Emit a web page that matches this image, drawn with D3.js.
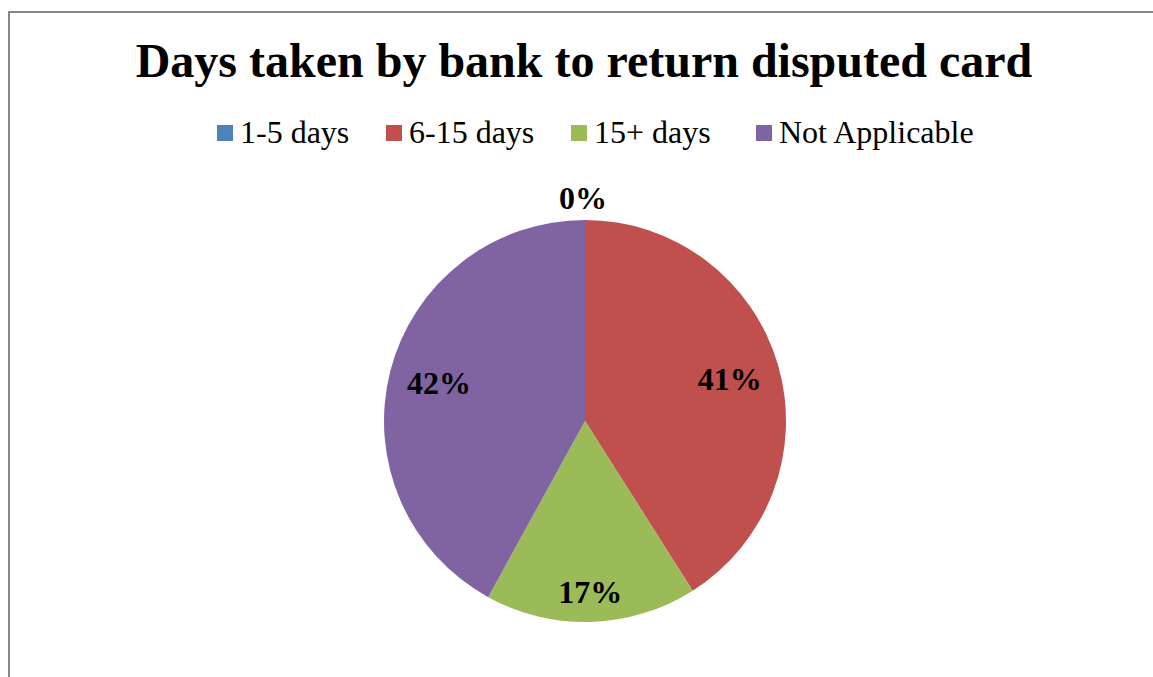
<!DOCTYPE html>
<html>
<head>
<meta charset="utf-8">
<script src="https://cdn.jsdelivr.net/npm/d3@7"></script>
<style>
  html, body { margin: 0; padding: 0; background: #fff; }
  svg { display: block; }
</style>
</head>
<body>
<svg id="chart" width="1153" height="677"></svg>
<script>
// Share of respondents by days taken to return a disputed card
const categories = ["1-5 days", "6-15 days", "15+ days", "Not Applicable"];
const percentages = [0, 41, 17, 42];
const sliceColors = ["#4F81BD", "#C0504D", "#9BBB59", "#8064A2"];
const chartTitle = "Days taken by bank to return disputed card";

const width = 1153, height = 677;
const svg = d3.select("#chart");
const serif = "'Liberation Serif', 'Times New Roman', serif";

// chart area frame
svg.append("rect")
  .attr("x", 9).attr("y", 12)
  .attr("width", width + 20).attr("height", height + 20)
  .attr("fill", "#fff")
  .attr("stroke", "#868686")
  .attr("stroke-width", 2);

// title
svg.append("text")
  .attr("x", 584).attr("y", 77)
  .attr("text-anchor", "middle")
  .attr("font-family", serif)
  .attr("font-weight", "bold")
  .attr("font-size", 48)
  .attr("fill", "#000")
  .text(chartTitle);

// legend
const color = d3.scaleOrdinal().domain(categories).range(sliceColors);
const legend = svg.append("g").attr("font-family", serif).attr("font-size", 32);
const legendX = [217, 386, 571, 756];
categories.forEach((c, i) => {
  const g = legend.append("g").attr("transform", `translate(${legendX[i]},0)`);
  g.append("rect").attr("x", 0).attr("y", 125).attr("width", 16).attr("height", 16)
    .attr("fill", color(c));
  g.append("text").attr("x", 23).attr("y", 143).attr("fill", "#000").text(c);
});

// pie
const cx = 585, cy = 421, r = 201;
const pie = d3.pie().sort(null).value(d => d.value);
const data = categories.map((c, i) => ({ name: c, value: percentages[i] }));
const arcs = pie(data);
const arc = d3.arc().innerRadius(0).outerRadius(r);

const pg = svg.append("g").attr("transform", `translate(${cx},${cy})`);
pg.selectAll("path")
  .data(arcs)
  .join("path")
  .attr("d", arc)
  .attr("fill", d => color(d.data.name));

// value labels: wide slices inside near the rim, narrow slices further out
const labelPos = d => {
  if (d.data.value === 0) return [-2, -r - 22];
  const lr = d.data.value < 25 ? r * 0.85 : r * 0.75;
  return d3.arc().innerRadius(lr).outerRadius(lr).centroid(d);
};
pg.selectAll("text.val")
  .data(arcs)
  .join("text")
  .attr("class", "val")
  .attr("font-family", serif)
  .attr("font-weight", "bold")
  .attr("font-size", 32)
  .attr("text-anchor", "middle")
  .attr("dy", "0.34em")
  .attr("fill", "#000")
  .attr("transform", d => `translate(${labelPos(d)})`)
  .text(d => d.data.value + "%");
</script>
</body>
</html>
